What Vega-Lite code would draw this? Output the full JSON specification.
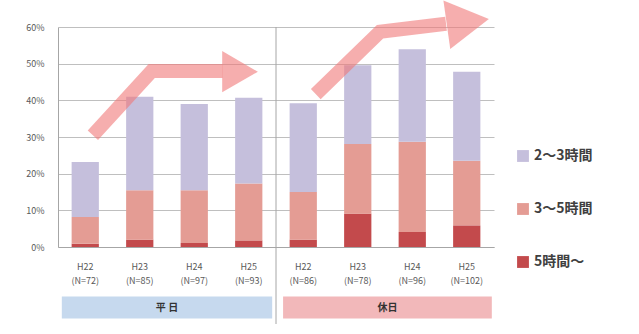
{
  "$schema": "https://vega.github.io/schema/vega-lite/v6.json",
  "width": 436,
  "height": 220,
  "autosize": {"type": "none"},
  "padding": {"left": 58, "top": 27, "right": 145, "bottom": 87},
  "background": "white",
  "config": {
    "font": "Noto Sans CJK JP",
    "view": {"stroke": null}
  },
  "resolve": {"scale": {"x": "independent"}, "axis": {"y": "independent"}},
  "layer": [
    {
      "data": {"values": [
        {"label": "H22 (N=72)", "cat": "5時間〜", "v": 0.9},
        {"label": "H22 (N=72)", "cat": "3〜5時間", "v": 7.3},
        {"label": "H22 (N=72)", "cat": "2〜3時間", "v": 15.0},
        {"label": "H23 (N=85)", "cat": "5時間〜", "v": 2.0},
        {"label": "H23 (N=85)", "cat": "3〜5時間", "v": 13.5},
        {"label": "H23 (N=85)", "cat": "2〜3時間", "v": 25.5},
        {"label": "H24 (N=97)", "cat": "5時間〜", "v": 1.1},
        {"label": "H24 (N=97)", "cat": "3〜5時間", "v": 14.4},
        {"label": "H24 (N=97)", "cat": "2〜3時間", "v": 23.5},
        {"label": "H25 (N=93)", "cat": "5時間〜", "v": 1.8},
        {"label": "H25 (N=93)", "cat": "3〜5時間", "v": 15.5},
        {"label": "H25 (N=93)", "cat": "2〜3時間", "v": 23.4},
        {"label": "H22 (N=86)", "cat": "5時間〜", "v": 2.0},
        {"label": "H22 (N=86)", "cat": "3〜5時間", "v": 13.0},
        {"label": "H22 (N=86)", "cat": "2〜3時間", "v": 24.2},
        {"label": "H23 (N=78)", "cat": "5時間〜", "v": 9.1},
        {"label": "H23 (N=78)", "cat": "3〜5時間", "v": 19.0},
        {"label": "H23 (N=78)", "cat": "2〜3時間", "v": 21.5},
        {"label": "H24 (N=96)", "cat": "5時間〜", "v": 4.1},
        {"label": "H24 (N=96)", "cat": "3〜5時間", "v": 24.6},
        {"label": "H24 (N=96)", "cat": "2〜3時間", "v": 25.2},
        {"label": "H25 (N=102)", "cat": "5時間〜", "v": 5.9},
        {"label": "H25 (N=102)", "cat": "3〜5時間", "v": 17.6},
        {"label": "H25 (N=102)", "cat": "2〜3時間", "v": 24.3}
      ]},
      "mark": {"type": "bar"},
      "encoding": {
        "x": {
          "field": "label", "type": "nominal",
          "sort": ["H22 (N=72)", "H23 (N=85)", "H24 (N=97)", "H25 (N=93)", "H22 (N=86)", "H23 (N=78)", "H24 (N=96)", "H25 (N=102)"],
          "scale": {"paddingInner": 0.5, "paddingOuter": 0.25},
          "axis": {
            "title": null, "labelAngle": 0, "ticks": false,
            "labelExpr": "split(datum.value, ' ')",
            "labelFontSize": 9, "labelColor": "#595959", "labelLineHeight": 14,
            "labelPadding": 15, "domainColor": "#a6a6a6", "grid": false
          }
        },
        "y": {
          "field": "v", "type": "quantitative", "stack": "zero",
          "scale": {"domain": [0, 60], "nice": false},
          "axis": {
            "title": null, "values": [0, 10, 20, 30, 40, 50, 60],
            "labelExpr": "datum.value + '%'", "labelFontSize": 9, "labelColor": "#595959",
            "labelOverlap": false,
            "ticks": false, "labelPadding": 14, "domainColor": "#a6a6a6",
            "gridColor": "#bfbfbf", "minExtent": 0, "maxExtent": 53
          }
        },
        "color": {
          "field": "cat", "type": "nominal",
          "scale": {"domain": ["2〜3時間", "3〜5時間", "5時間〜"], "range": ["#c5bfdc", "#e49c94", "#c34a4c"]},
          "legend": {
            "title": null, "orient": "none", "legendX": 458, "legendY": 122,
            "symbolType": "square", "symbolSize": 140, "symbolStrokeWidth": 0,
            "labelFontSize": 14, "labelColor": "#404040", "labelFontWeight": "bold",
            "rowPadding": 39, "labelOffset": 4
          }
        },
        "order": {"field": "cat", "sort": "descending"}
      }
    },
    {
      "data": {"values": [
        {"grp": "平 日", "x1": 0.07, "x2": 3.93, "c": "#c6d9ee"},
        {"grp": "休日", "x1": 4.13, "x2": 7.96, "c": "#f2b8ba"}
      ]},
      "mark": {"type": "rect"},
      "encoding": {
        "x": {"field": "x1", "type": "quantitative", "scale": {"domain": [0, 8], "nice": false}, "axis": null},
        "x2": {"field": "x2"},
        "y": {"datum": -13.5, "type": "quantitative", "scale": {"domain": [0, 60], "nice": false}, "axis": null},
        "y2": {"datum": -19.5},
        "color": {"field": "c", "type": "nominal", "scale": null}
      }
    },
    {
      "data": {"values": [
        {"grp": "平 日", "xm": 2.0},
        {"grp": "休日", "xm": 6.045}
      ]},
      "mark": {"type": "text", "fontSize": 10, "fontWeight": "bold", "color": "#333333"},
      "encoding": {
        "x": {"field": "xm", "type": "quantitative", "scale": {"domain": [0, 8], "nice": false}, "axis": null},
        "y": {"datum": -16.5, "type": "quantitative", "scale": {"domain": [0, 60], "nice": false}, "axis": null},
        "text": {"field": "grp"}
      }
    },
    {
      "data": {"values": [{"xs": 4, "y1": -21, "y2": 60}]},
      "mark": {"type": "rule", "color": "#a6a6a6", "strokeWidth": 1},
      "encoding": {
        "x": {"field": "xs", "type": "quantitative", "scale": {"domain": [0, 8], "nice": false}, "axis": null},
        "y": {"field": "y1", "type": "quantitative", "scale": {"domain": [0, 60], "nice": false}, "axis": null},
        "y2": {"field": "y2"}
      }
    },
    {
      "data": {"values": [
        {"arrow": "a", "step": 1, "ax": 0.64, "ay": 30.5},
        {"arrow": "a", "step": 2, "ax": 1.72, "ay": 48.0},
        {"arrow": "a", "step": 3, "ax": 3.02, "ay": 48.0},
        {"arrow": "b", "step": 1, "ax": 4.73, "ay": 41.7},
        {"arrow": "b", "step": 2, "ax": 5.91, "ay": 58.7},
        {"arrow": "b", "step": 3, "ax": 7.12, "ay": 60.9}
      ]},
      "mark": {"type": "line", "color": "#f07878", "opacity": 0.6, "strokeWidth": 14, "strokeCap": "butt", "strokeJoin": "miter"},
      "encoding": {
        "x": {"field": "ax", "type": "quantitative", "scale": {"domain": [0, 8], "nice": false}, "axis": null},
        "y": {"field": "ay", "type": "quantitative", "scale": {"domain": [0, 60], "nice": false}, "axis": null},
        "detail": {"field": "arrow"},
        "order": {"field": "step"}
      }
    },
    {
      "data": {"values": [
        {"arrow": "a", "hx": 3.34, "hy": 47.8, "rot": 0, "s": 1700},
        {"arrow": "b", "hx": 7.52, "hy": 61.4, "rot": 352, "s": 2400}
      ]},
      "mark": {"type": "point", "shape": "triangle-right", "filled": true, "color": "#f07878", "opacity": 0.6, "strokeWidth": 0},
      "encoding": {
        "x": {"field": "hx", "type": "quantitative", "scale": {"domain": [0, 8], "nice": false}, "axis": null},
        "y": {"field": "hy", "type": "quantitative", "scale": {"domain": [0, 60], "nice": false}, "axis": null},
        "angle": {"field": "rot", "type": "quantitative", "scale": null},
        "size": {"field": "s", "type": "quantitative", "scale": null}
      }
    }
  ]
}
